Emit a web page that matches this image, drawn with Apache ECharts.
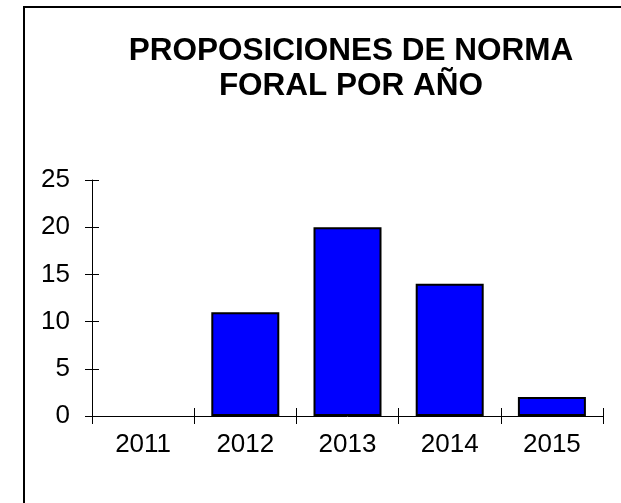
<!DOCTYPE html>
<html>
<head>
<meta charset="utf-8">
<script src="https://cdn.jsdelivr.net/npm/echarts@6/dist/echarts.min.js"></script>
<style>
  html, body { margin: 0; padding: 0; background: #fff; }
  #main { width: 621px; height: 503px; }
</style>
</head>
<body>
<div id="main"></div>
<script>
var years = ['2011', '2012', '2013', '2014', '2015'];
var counts = [0, 11, 20, 14, 2];
var yMin = 0, yMax = 25, yStep = 5;

var font = 'Liberation Sans, Arial, sans-serif';
var chart = echarts.init(document.getElementById('main'), null, { renderer: 'canvas' });

// ticks in the original cross the axis, so a second axis draws the inside half
function yAxis(inside) {
  return {
    type: 'value', position: 'left', min: yMin, max: yMax, interval: yStep,
    axisLine: { show: !inside, lineStyle: { color: '#000', width: 1 } },
    axisTick: { show: true, inside: inside, length: 7, lineStyle: { color: '#000' } },
    axisLabel: { show: !inside, margin: 22, color: '#000', fontSize: 26, fontFamily: font },
    splitLine: { show: false }
  };
}
function xAxis(inside) {
  return {
    type: 'category', position: 'bottom', data: years,
    axisLine: { show: !inside, lineStyle: { color: '#000', width: 1 } },
    axisTick: { show: true, inside: inside, length: 8, lineStyle: { color: '#000' } },
    axisLabel: { show: !inside, margin: 16, color: '#000', fontSize: 26, fontFamily: font }
  };
}

// a zero bar has no outline in the original
var barData = counts.map(function (v) {
  return v === 0 ? { value: v, itemStyle: { borderWidth: 0 } } : v;
});

var option = {
  backgroundColor: '#fff',
  animation: false,
  title: {
    text: 'PROPOSICIONES DE NORMA\nFORAL POR AÑO',
    left: 346, top: 29, textAlign: 'center',
    textStyle: { fontSize: 31.5, fontWeight: 'bold', lineHeight: 35, color: '#000', fontFamily: font }
  },
  graphic: [{
    type: 'rect', silent: true,
    shape: { x: 24, y: 7, width: 700, height: 600 },
    style: { fill: 'none', stroke: '#000', lineWidth: 2 }
  }],
  grid: { left: 92, right: 18, top: 180, bottom: 87, containLabel: false },
  xAxis: [xAxis(false), xAxis(true)],
  yAxis: [yAxis(false), yAxis(true)],
  series: [{
    type: 'bar', data: barData, xAxisIndex: 0, yAxisIndex: 0,
    barWidth: 68,
    itemStyle: { color: '#0000ff', borderColor: '#000', borderWidth: 2 }
  }]
};
chart.setOption(option);
</script>
</body>
</html>
